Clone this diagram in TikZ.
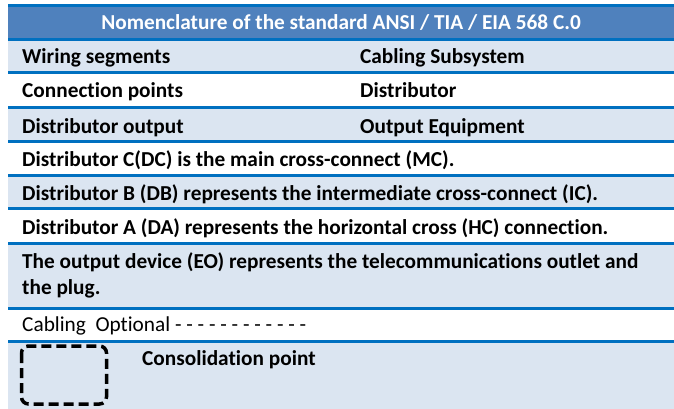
\documentclass[tikz,border=0pt]{standalone}
\usepackage{fontspec}
\setmainfont{Carlito}[Ligatures=NoCommon]
\definecolor{hdrblue}{HTML}{4F81BD}
\definecolor{lineblue}{HTML}{0070C0}
\definecolor{rowblue}{HTML}{DBE5F1}
\begin{document}
\begin{tikzpicture}[x=1pt, y=-1pt,
	cell/.style={anchor=base west, inner sep=0pt, font=\fontsize{21.3}{26}\selectfont\bfseries},
	plain/.style={anchor=base west, inner sep=0pt, font=\fontsize{21.3}{26}\selectfont},
	sep/.style={lineblue, line width=3}]
		\useasboundingbox (0,0) rectangle (674,409);
		% row shading
		\fill[hdrblue] (8,6) rectangle (674,40);
		\foreach \ya/\yb in {40/72.5, 108/141.5, 175/208.5, 243.5/308.5, 341/409}
			\fill[rowblue] (8,\ya) rectangle (674,\yb);
		\foreach \y in {6,40,72.5,108,141.5,175,208.5,243.5,308.5,341}
			\draw[sep] (8,\y)--(674,\y);
		% header
		\node[cell, anchor=base, text=white] (title) at (341,30) {Nomenclature of the standard ANSI / TIA / EIA 568 C.0};
		% two columns
		\node[cell] (seg) at (22,64) {Wiring segments};
		\node[cell] (subsys) at (360,64) {Cabling Subsystem};
		\node[cell] (conn) at (22,98) {Connection points};
		\node[cell] (distr) at (360,98) {Distributor};
		\node[cell] (dout) at (22,133) {Distributor output};
		\node[cell] (outeq) at (360,133) {Output Equipment};
		% one column
		\node[cell] (dc) at (22,166) {Distributor C(DC) is the main cross-connect (MC).};
		\node[cell] (db) at (22,200) {Distributor B (DB) represents the intermediate cross-connect (IC).};
		\node[cell] (da) at (22,234) {Distributor A (DA) represents the horizontal cross (HC) connection.};
		\node[cell] (eo) at (22,268) {The output device (EO) represents the telecommunications outlet and};
		\node[cell] (plug) at (22,294) {the plug.};
		\node[plain] (opt) at (22,331) {Cabling\ \ Optional - - - - - - - - - - - -};
		% consolidation point
		\draw[line width=3.5, dash pattern=on 10 off 5, rounded corners=7] (21.5,346) rectangle (106.5,404);
		\node[cell] (cp) at (142,365) {Consolidation point};
\end{tikzpicture}
\end{document}
